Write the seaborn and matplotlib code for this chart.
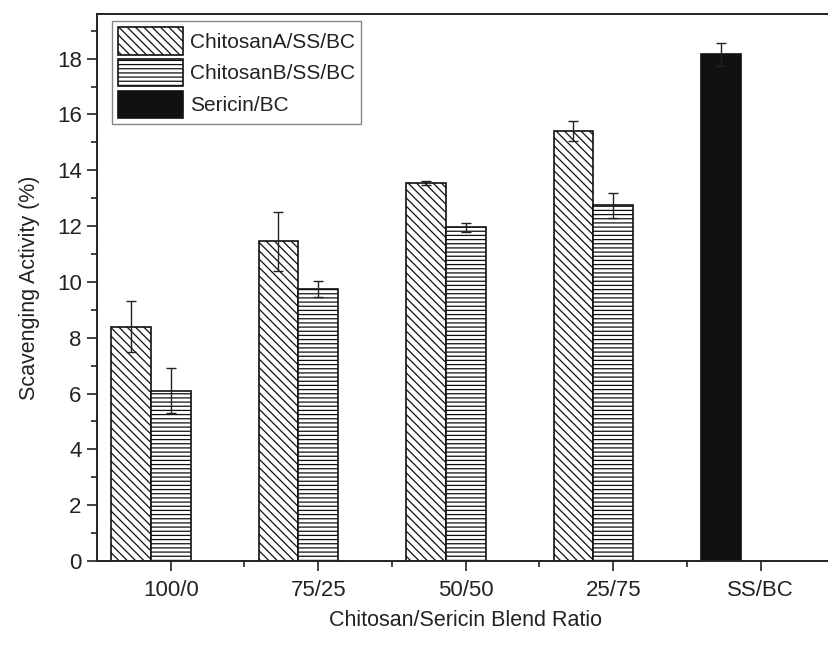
import numpy as np
import pandas as pd
import matplotlib
matplotlib.use("Agg")
import matplotlib.pyplot as plt
import seaborn as sns

# Datos
ratios = ["100/0", "75/25", "50/50", "25/75", "SS/BC"]
chitosan_a = [8.4, 11.45, 13.55, 15.4]
chitosan_a_err = [0.9, 1.05, 0.08, 0.35]
chitosan_b = [6.1, 9.75, 11.95, 12.75]
chitosan_b_err = [0.8, 0.28, 0.15, 0.45]
sericin = [18.15]
sericin_err = [0.4]
series_names = ["ChitosanA/SS/BC", "ChitosanB/SS/BC", "Sericin/BC"]

# Configuración visual
sns.set_style("ticks")
plt.rcParams["font.family"] = ["Liberation Sans", "DejaVu Sans"]
plt.rcParams["hatch.linewidth"] = 0.9
plt.rcParams["hatch.color"] = "#111111"

BAR_W = 0.27
TEXT = "#222222"


def armar_tabla():
    """Arma la tabla larga con la posición de cada barra."""
    filas = []
    for i, (v, e) in enumerate(zip(chitosan_a, chitosan_a_err)):
        filas.append((i - BAR_W, v, e, series_names[0]))
    for i, (v, e) in enumerate(zip(chitosan_b, chitosan_b_err)):
        filas.append((i, v, e, series_names[1]))
    for v, e in zip(sericin, sericin_err):
        filas.append((ratios.index("SS/BC") - BAR_W, v, e, series_names[2]))
    return pd.DataFrame(filas, columns=["pos", "valor", "err", "serie"])


def main():
    df = armar_tabla()

    fig = plt.figure(figsize=(8.29, 6.46), dpi=100)
    ax = fig.add_axes([97 / 829, 85 / 646, 737.5 / 829, 547 / 646])

    paleta = {series_names[0]: "white", series_names[1]: "white", series_names[2]: "#111111"}
    sns.barplot(data=df, x="pos", y="valor", hue="serie", hue_order=series_names,
                palette=paleta, native_scale=True, dodge=False, width=1.0,
                errorbar=None, saturation=1, edgecolor="#111111", linewidth=1.2,
                legend=False, ax=ax)

    hatches = ["\\\\\\\\", "----", ""]
    for cont, h in zip(ax.containers, hatches):
        for barra in cont:
            barra.set_hatch(h)

    ax.errorbar(df["pos"], df["valor"], yerr=df["err"], fmt="none",
                ecolor="#222222", elinewidth=1.0, capsize=3.3, capthick=1.0, zorder=5)

    ax.set_xlim(-0.5, 4.5)
    ax.set_ylim(0, 19.6)
    ax.set_xticks(np.arange(len(ratios)))
    ax.set_xticklabels(ratios)
    ax.set_xticks(np.arange(len(ratios)) + 0.5, minor=True)
    ax.set_yticks(np.arange(0, 19, 2))
    ax.set_yticks(np.arange(1, 20, 2), minor=True)

    ax.tick_params(axis="both", which="major", direction="out", length=7, width=1.2,
                   labelsize=16, labelcolor=TEXT, color="#222222")
    ax.tick_params(axis="x", which="major", pad=7)
    ax.tick_params(axis="y", which="major", pad=4)
    ax.tick_params(axis="both", which="minor", direction="out", length=4, width=1.2,
                   color="#222222")
    for s in ax.spines.values():
        s.set_linewidth(1.4)
        s.set_color("#222222")

    ax.set_xlabel("Chitosan/Sericin Blend Ratio", fontsize=15.5, color=TEXT, labelpad=6)
    ax.set_ylabel("Scavenging Activity (%)", fontsize=15.5, color=TEXT, labelpad=12)

    leg = ax.legend(handles=list(ax.containers), labels=series_names,
                    loc="upper left", bbox_to_anchor=(0.02, 0.987), borderaxespad=0,
                    fontsize=15, handlelength=3.1, handleheight=1.65,
                    labelspacing=0.2, handletextpad=0.35, borderpad=0.3,
                    frameon=True, fancybox=False)
    leg.get_frame().set_edgecolor("#666666")
    leg.get_frame().set_linewidth(1.0)
    for t in leg.get_texts():
        t.set_color(TEXT)

    fig.savefig("out.png", dpi=100)
    plt.close(fig)


if __name__ == "__main__":
    main()
